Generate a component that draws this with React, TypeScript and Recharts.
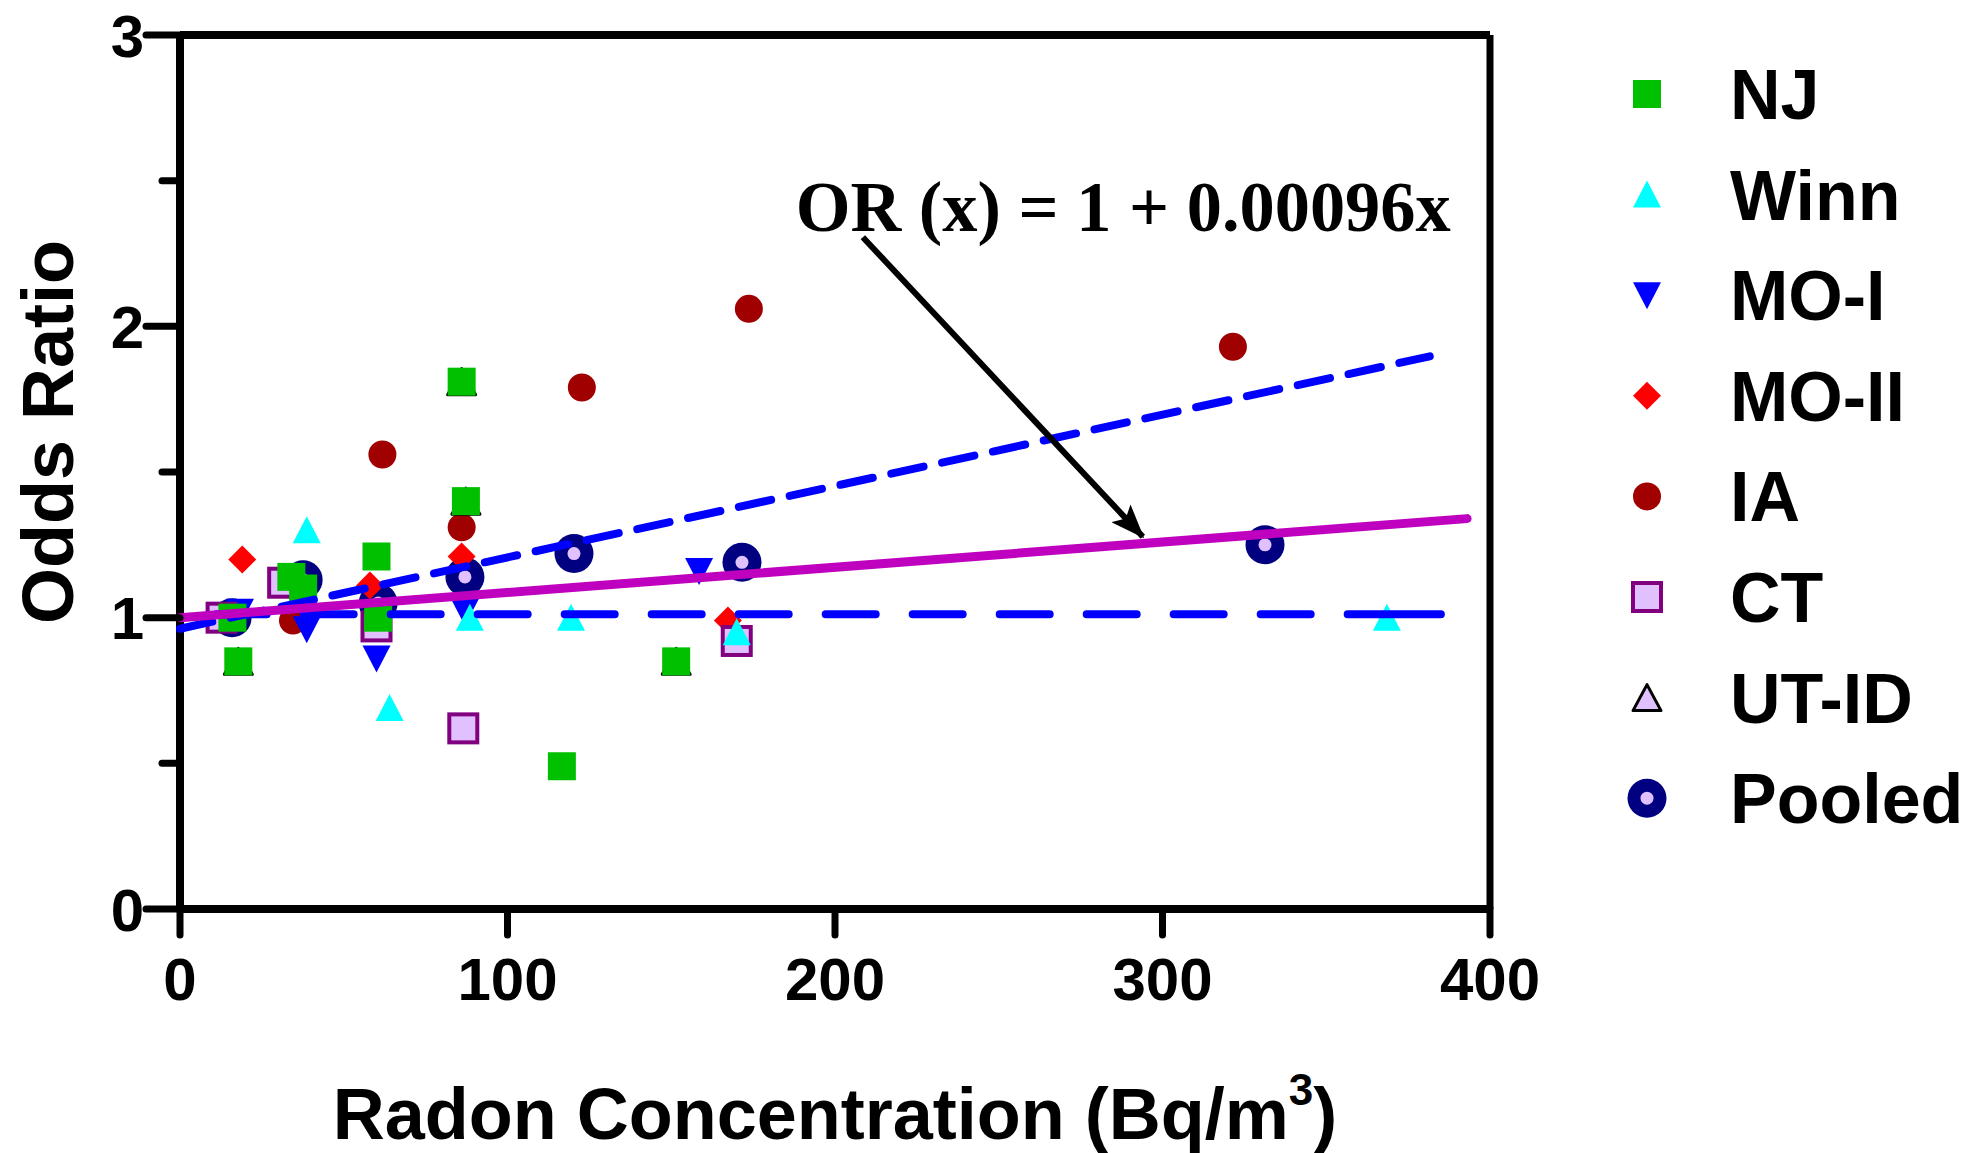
import React from 'react';
import { ScatterChart, Scatter, XAxis, YAxis, ReferenceLine, ReferenceDot, Legend } from 'recharts';

// ---------- data ----------
const seriesNames = ['NJ', 'Winn', 'MO-I', 'MO-II', 'IA', 'CT', 'UT-ID', 'Pooled'];

const njPoints = [
  { x: 16, y: 1.0 }, { x: 17.8, y: 0.85 }, { x: 34, y: 1.14 }, { x: 37.6, y: 1.1 },
  { x: 60, y: 1.21 }, { x: 60.5, y: 1.0 }, { x: 86, y: 1.81 }, { x: 87.3, y: 1.4 },
  { x: 116.6, y: 0.49 }, { x: 151.5, y: 0.85 },
];
const winnPoints = [
  { x: 38.7, y: 1.3 }, { x: 64, y: 0.69 }, { x: 88.5, y: 1.0 }, { x: 119.4, y: 1.0 },
  { x: 170, y: 0.95 }, { x: 368.5, y: 1.0 },
];
const moIPoints = [
  { x: 18.3, y: 1.02 }, { x: 38.7, y: 0.96 }, { x: 60, y: 0.86 }, { x: 87, y: 1.02 }, { x: 158.5, y: 1.16 },
];
const moIIPoints = [
  { x: 19, y: 1.2 }, { x: 58, y: 1.11 }, { x: 86, y: 1.21 }, { x: 167.3, y: 0.99 },
];
const iaPoints = [
  { x: 34.5, y: 0.99 }, { x: 61.8, y: 1.56 }, { x: 86, y: 1.31 }, { x: 122.7, y: 1.79 },
  { x: 173.7, y: 2.06 }, { x: 321.5, y: 1.93 },
];
const ctPoints = [
  { x: 12.7, y: 1.0 }, { x: 31.5, y: 1.12 }, { x: 60, y: 0.97 }, { x: 86.5, y: 0.62 }, { x: 170, y: 0.92 },
];
const utIdPoints = [
  { x: 17.8, y: 0.85 }, { x: 86, y: 1.81 }, { x: 87.3, y: 1.4 }, { x: 151.5, y: 0.85 },
];
const pooledPoints = [
  { x: 15.9, y: 1.0 }, { x: 37.6, y: 1.13 }, { x: 60.5, y: 1.05 }, { x: 87, y: 1.14 },
  { x: 120.3, y: 1.22 }, { x: 171.6, y: 1.19 }, { x: 331.3, y: 1.25 },
];

const pooledFit = [{ x: 0, y: 1.0 }, { x: 393, y: 1.34 }];
const steepFit = [{ x: 0, y: 0.962 }, { x: 381.6, y: 1.897 }];
const nullLine = [{ x: 11.2, y: 1.012 }, { x: 385, y: 1.012 }];
const arrowSegment = [{ x: 208.5, y: 2.306 }, { x: 294, y: 1.278 }];
const annotationAnchor = { x: 188, y: 2.326 };
const annotationText = 'OR (x) = 1 + 0.00096x';

const xTicks = [0, 100, 200, 300, 400];
const yTicks = [0, 0.5, 1, 1.5, 2, 2.5, 3];
const xTitle = 'Radon Concentration (Bq/m';
const xTitleSup = '3';
const yTitle = 'Odds Ratio';

// ---------- styles ----------
const SANS = '"Liberation Sans", Arial, Helvetica, sans-serif';
const SERIF = '"Liberation Serif", "Times New Roman", serif';
const LAV = '#E0C0FF';
const NULL_DASH = Array(13).fill('50 37').join(' ') + ' 95 200';

function Marker({ kind, cx, cy }: { kind: string; cx: number; cy: number }) {
  if (cx == null || cy == null) return <g />;
  switch (kind) {
    case 'NJ':
      return <rect x={cx - 14} y={cy - 14} width={28} height={28} fill="#00C000" />;
    case 'Winn':
      return <polygon points={`${cx},${cy - 14} ${cx + 14},${cy + 13} ${cx - 14},${cy + 13}`} fill="#00FFFF" />;
    case 'MO-I':
      return <polygon points={`${cx - 14},${cy - 13} ${cx + 14},${cy - 13} ${cx},${cy + 14}`} fill="#0000FF" />;
    case 'MO-II':
      return <polygon points={`${cx},${cy - 14} ${cx + 14},${cy} ${cx},${cy + 14} ${cx - 14},${cy}`} fill="#FF0000" />;
    case 'IA':
      return <circle cx={cx} cy={cy} r={14} fill="#A00000" />;
    case 'CT':
      return <rect x={cx - 14} y={cy - 14} width={28} height={28} fill={LAV} stroke="#800080" strokeWidth={4} />;
    case 'UT-ID':
      return (
        <polygon
          points={`${cx},${cy - 13} ${cx + 14},${cy + 13} ${cx - 14},${cy + 13}`}
          fill={LAV}
          stroke="#000"
          strokeWidth={3}
          strokeLinejoin="round"
        />
      );
    case 'Pooled':
      return (
        <g>
          <circle cx={cx} cy={cy} r={19.5} fill="#000080" />
          <circle cx={cx} cy={cy} r={6.5} fill={LAV} />
        </g>
      );
    default:
      return <g />;
  }
}

const XTick = (props: any) => {
  const { x, y, payload } = props;
  return (
    <g>
      <line x1={x} x2={x} y1={y} y2={y + 26} stroke="#000" strokeWidth={7} strokeLinecap="round" />
      <text x={x} y={y + 91} textAnchor="middle" fontFamily={SANS} fontWeight="bold" fontSize={60} fill="#000">
        {payload.value}
      </text>
    </g>
  );
};

const YTick = (props: any) => {
  const { x, y, payload } = props;
  const major = Number.isInteger(payload.value);
  return (
    <g>
      <line x1={x - (major ? 34 : 18)} x2={x} y1={y} y2={y} stroke="#000" strokeWidth={7} strokeLinecap="round" />
      {major && (
        <text x={x - 36} y={y + 21.5} textAnchor="end" fontFamily={SANS} fontWeight="bold" fontSize={60} fill="#000">
          {payload.value}
        </text>
      )}
    </g>
  );
};

const XTitle = (props: any) => {
  const vb = props.viewBox || { x: 180, y: 909, width: 1310, height: 244 };
  return (
    <text
      x={vb.x + vb.width / 2}
      y={vb.y + 230}
      textAnchor="middle"
      fontFamily={SANS}
      fontWeight="bold"
      fontSize={72}
      fill="#000"
    >
      {xTitle}
      <tspan fontSize={44} dy={-34}>{xTitleSup}</tspan>
      <tspan dy={34}>)</tspan>
    </text>
  );
};

const YTitle = (props: any) => {
  const vb = props.viewBox || { x: 0, y: 35, width: 180, height: 874 };
  const cx = vb.x + 73;
  const cy = vb.y + vb.height / 2 - 40;
  return (
    <text
      x={cx}
      y={cy}
      transform={`rotate(-90, ${cx}, ${cy})`}
      textAnchor="middle"
      fontFamily={SANS}
      fontWeight="bold"
      fontSize={72}
      fill="#000"
    >
      {yTitle}
    </text>
  );
};

const legendRowTop = 54;
const legendRowStep = 100.6;

const LegendContent = () => (
  <svg width={366} height={860} style={{ overflow: 'visible', display: 'block' }}>
    {seriesNames.map((name, i) => {
      const cy = legendRowTop + i * legendRowStep;
      return (
        <g key={name}>
          <Marker kind={name} cx={47} cy={cy} />
          <text x={130} y={cy + 25} fontFamily={SANS} fontWeight="bold" fontSize={70} fill="#000">
            {name}
          </text>
        </g>
      );
    })}
  </svg>
);

const ArrowShape = (props: any) => {
  const { x1, y1, x2, y2 } = props;
  return (
    <g>
      <defs>
        <marker
          id="orArrowHead"
          markerUnits="userSpaceOnUse"
          markerWidth={34}
          markerHeight={26}
          refX={32}
          refY={13}
          orient="auto"
        >
          <path d="M0,0 L34,13 L0,26 L7,13 Z" fill="#000" />
        </marker>
      </defs>
      <line x1={x1} y1={y1} x2={x2} y2={y2} stroke="#000" strokeWidth={6} markerEnd="url(#orArrowHead)" />
    </g>
  );
};

const AnnotationShape = (props: any) => (
  <text
    x={props.cx}
    y={props.cy}
    textAnchor="start"
    fontFamily={SERIF}
    fontWeight="bold"
    fontSize={71}
    textLength={655}
    lengthAdjust="spacingAndGlyphs"
    fill="#000"
  >
    {annotationText}
  </text>
);

const drawOrder: [string, { x: number; y: number }[]][] = [
  ['Pooled', pooledPoints],
  ['IA', iaPoints],
  ['MO-I', moIPoints],
  ['MO-II', moIIPoints],
  ['CT', ctPoints],
  ['UT-ID', utIdPoints],
  ['Winn', winnPoints],
  ['NJ', njPoints],
];

export default function App() {
  return (
    <div style={{ position: 'absolute', left: 0, top: 0, width: 1966, height: 1153, background: '#fff' }}>
      <ScatterChart width={1966} height={1153} margin={{ top: 35, right: 476, bottom: 0, left: 0 }}>
        <XAxis
          type="number"
          dataKey="x"
          domain={[0, 400]}
          ticks={xTicks}
          interval={0}
          height={244}
          tickSize={0}
          tickMargin={0}
          tickLine={false}
          axisLine={{ stroke: '#000', strokeWidth: 8 }}
          tick={(p: any) => <XTick {...p} />}
          label={(p: any) => <XTitle {...p} />}
          allowDataOverflow
        />
        <YAxis
          type="number"
          dataKey="y"
          domain={[0, 3]}
          ticks={yTicks}
          interval={0}
          width={180}
          tickSize={0}
          tickMargin={0}
          tickLine={false}
          axisLine={{ stroke: '#000', strokeWidth: 8 }}
          tick={(p: any) => <YTick {...p} />}
          label={(p: any) => <YTitle {...p} />}
          allowDataOverflow
        />
        <ReferenceLine y={3} stroke="#000" strokeWidth={8} ifOverflow="visible" />
        <ReferenceLine x={400} stroke="#000" strokeWidth={7} ifOverflow="visible" />
        {drawOrder.map(([name, pts]) => (
          <Scatter
            key={name}
            name={name}
            data={pts}
            isAnimationActive={false}
            shape={(p: any) => <Marker kind={name} cx={p.cx} cy={p.cy} />}
          />
        ))}
        <ReferenceLine
          segment={nullLine}
          stroke="#0000FF"
          strokeWidth={8}
          strokeDasharray={NULL_DASH}
          strokeLinecap="round"
          ifOverflow="visible"
          zIndex={1000}
        />
        <ReferenceLine
          segment={steepFit}
          stroke="#0000FF"
          strokeWidth={8}
          strokeDasharray="33 19"
          strokeLinecap="round"
          ifOverflow="visible"
          zIndex={1000}
        />
        <ReferenceLine
          segment={pooledFit}
          stroke="#BF00BF"
          strokeWidth={9}
          strokeLinecap="round"
          ifOverflow="visible"
          zIndex={1000}
        />
        <ReferenceLine segment={arrowSegment} ifOverflow="visible" shape={(p: any) => <ArrowShape {...p} />} zIndex={1000} />
        <ReferenceDot
          x={annotationAnchor.x}
          y={annotationAnchor.y}
          r={0}
          ifOverflow="visible"
          shape={(p: any) => <AnnotationShape {...p} />}
          zIndex={1000}
        />
        <Legend
          layout="vertical"
          align="center"
          verticalAlign="middle"
          content={() => <LegendContent />}
          wrapperStyle={{ position: 'absolute', left: 1600, top: 40, width: 366, height: 860 }}
        />
      </ScatterChart>
    </div>
  );
}
